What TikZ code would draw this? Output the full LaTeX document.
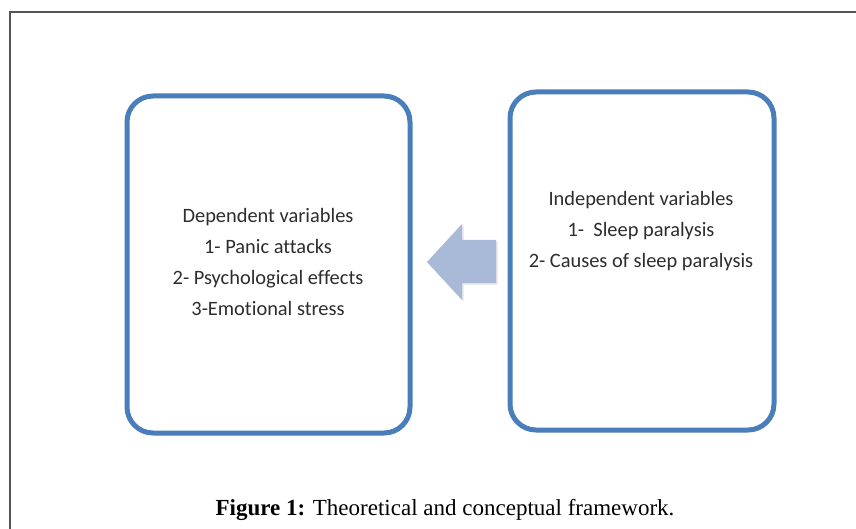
\documentclass[tikz,border=0pt]{standalone}
\usepackage{fontspec}
\setmainfont[Ligatures=CommonOff]{Carlito}
\newfontfamily\capfont{Liberation Serif}
\usetikzlibrary{shadows}
\definecolor{boxblue}{RGB}{74,126,187}
\definecolor{arrowblue}{RGB}{168,186,216}
\definecolor{txtgrey}{RGB}{45,45,45}
\definecolor{framegrey}{RGB}{85,85,85}
\begin{document}
\begin{tikzpicture}[x=1pt,y=-1pt,
  varbox/.style={draw=boxblue, line width=5pt, rounded corners=26pt, fill=white,
    drop shadow={shadow xshift=1.5pt, shadow yshift=-2pt, opacity=0.25}},
  vartext/.style={text=txtgrey, font=\fontsize{20.4}{31}\selectfont, align=center},
  bigarrow/.style={fill=arrowblue, draw=none,
    drop shadow={shadow xshift=1.5pt, shadow yshift=-1.5pt, opacity=0.2}}]
\useasboundingbox (0,0) rectangle (856,529);
\fill[white] (0,0) rectangle (856,529);
% frame
\draw[framegrey, line width=1.3pt] (10,529) -- (10,12) -- (856,12);
% boxes
\path[varbox] (127,96) rectangle (410,433);
\path[varbox] (510,92) rectangle (774,430);
\node[vartext, inner sep=0pt] (dep) at (268,262) {Dependent variables\\1- Panic attacks\\2- Psychological effects\\3-Emotional stress};
\node[vartext, inner sep=0pt] (indep) at (641,231) {Independent variables\\1-\ \ Sleep paralysis\\2- Causes of sleep paralysis};
% arrow
\path[bigarrow] (496,240) -- (462,240) -- (462,224) -- (427,262) -- (462,300) -- (462,283) -- (496,283) -- cycle;
\coordinate (arrowtip) at (427,262);
% caption
\node[font=\capfont\fontsize{23}{26}\selectfont, text=black, inner sep=0pt] (cap) at (445,510)
  {\textbf{Figure 1:} Theoretical and conceptual framework.};
\end{tikzpicture}
\end{document}
